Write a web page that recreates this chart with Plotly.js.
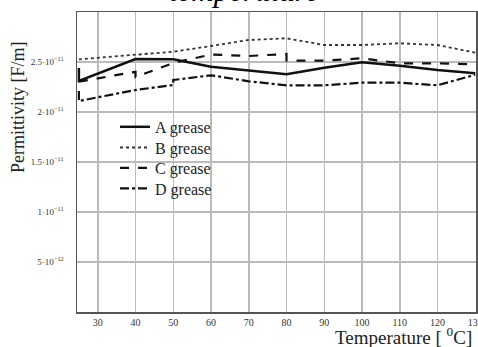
<!DOCTYPE html>
<html><head><meta charset="utf-8">
<script src="https://cdn.plot.ly/plotly-3.0.1.min.js"></script>
<style>html,body{margin:0;padding:0;background:#fff}#c{width:478px;height:347px}</style>
</head><body><div id="c"></div>
<script>
var seriesNames = ["A grease", "B grease", "C grease", "D grease"];
var xA = [25, 25, 40, 50, 60, 70, 80, 90, 100, 110, 120, 130];
var yA = [2.44e-11, 2.31e-11, 2.53e-11, 2.527e-11, 2.453e-11, 2.413e-11, 2.377e-11, 2.443e-11, 2.497e-11, 2.463e-11, 2.42e-11, 2.387e-11];
var xB = [25, 40, 50, 60, 70, 80, 90, 100, 110, 120, 130];
var yB = [2.527e-11, 2.57e-11, 2.603e-11, 2.66e-11, 2.72e-11, 2.737e-11, 2.67e-11, 2.67e-11, 2.687e-11, 2.67e-11, 2.593e-11];
var xC = [25, 40, 40, 50, 60, 70, 80, 80, 90, 100, 110, 120, 130];
var yC = [2.303e-11, 2.403e-11, 2.35e-11, 2.49e-11, 2.575e-11, 2.56e-11, 2.58e-11, 2.513e-11, 2.513e-11, 2.537e-11, 2.487e-11, 2.487e-11, 2.477e-11];
var xD = [25, 25, 40, 50, 50, 60, 70, 80, 90, 100, 110, 120, 130];
var yD = [2.21e-11, 2.11e-11, 2.22e-11, 2.27e-11, 2.32e-11, 2.367e-11, 2.307e-11, 2.267e-11, 2.267e-11, 2.293e-11, 2.293e-11, 2.267e-11, 2.373e-11];
var xTicks = [30, 40, 50, 60, 70, 80, 90, 100, 110, 120, 130];
var yTickVals = [5e-12, 1e-11, 1.5e-11, 2e-11, 2.5e-11];
var yTickText = ["5·10<sup>−12</sup>", "1·10<sup>−11</sup>", "1.5·10<sup>−11</sup>", "2·10<sup>−11</sup>", "2.5·10<sup>−11</sup>"];

var serif = "Liberation Serif";
var traces = [
  {x: xA, y: yA, name: seriesNames[0], legend: "legend", mode: "lines", line: {color: "#111", width: 2.5, dash: "solid"}},
  {x: xB, y: yB, name: seriesNames[1], legend: "legend2", mode: "lines", line: {color: "#333", width: 1.8, dash: "dot"}},
  {x: xC, y: yC, name: seriesNames[2], legend: "legend3", mode: "lines", line: {color: "#111", width: 2.2, dash: "dash"}},
  {x: xD, y: yD, name: seriesNames[3], legend: "legend4", mode: "lines", line: {color: "#111", width: 2.2, dash: "dashdot"}}
];
function leg(y) {
  return {x: 0.0953, y: y, xanchor: "left", yanchor: "middle", bgcolor: "rgba(255,255,255,0)",
          font: {family: serif, size: 16, color: "#222"}, itemwidth: 30};
}
var layout = {
  width: 478, height: 347,
  margin: {l: 77, r: 2, t: 12, b: 35},
  paper_bgcolor: "#fff", plot_bgcolor: "#fff",
  font: {family: serif},
  showlegend: true,
  legend: leg(0.617), legend2: leg(0.548), legend3: leg(0.48), legend4: leg(0.412),
  xaxis: {range: [24.5, 130.2], tickvals: xTicks, ticktext: xTicks.map(String),
          showgrid: true, gridcolor: "#bbb", gridwidth: 1.5, zeroline: false,
          showline: true, linecolor: "#555", linewidth: 1.5, mirror: true,
          ticks: "", ticklabeloverflow: "allow", tickfont: {family: serif, size: 10, color: "#333"}},
  yaxis: {range: [0, 3e-11], tickvals: yTickVals, ticktext: yTickText,
          showgrid: true, gridcolor: "#bbb", gridwidth: 1.5, zeroline: false,
          showline: true, linecolor: "#555", linewidth: 1.5, mirror: true,
          ticks: "", ticklabelstandoff: 10, tickfont: {family: serif, size: 9, color: "#333"}},
  annotations: [
    {text: "temperature", xref: "paper", yref: "paper", x: 0.421, y: 1, xanchor: "center", yanchor: "bottom",
     yshift: 2, showarrow: false, font: {family: serif, size: 31, color: "#000", style: "italic"}},
    {text: "Permittivity [F/m]", xref: "paper", yref: "paper", x: -0.148, y: 0.683, xanchor: "center", yanchor: "middle",
     textangle: -90, showarrow: false, font: {family: serif, size: 18, color: "#222"}},
    {text: "Temperature [ <sup>0</sup>C]", xref: "paper", yref: "paper", x: 1.0, y: 0, xanchor: "right", yanchor: "top",
     yshift: -10, xshift: -2, showarrow: false, font: {family: serif, size: 19, color: "#222"}}
  ]
};
Plotly.newPlot("c", traces, layout, {displayModeBar: false, staticPlot: true});
</script>
</body></html>
